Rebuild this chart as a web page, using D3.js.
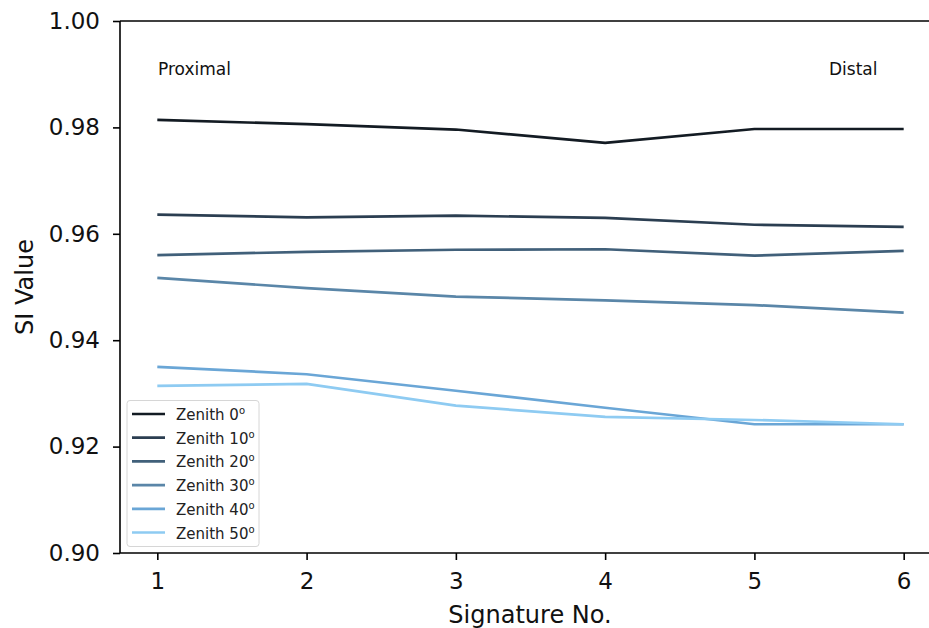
<!DOCTYPE html>
<html>
<head>
<meta charset="utf-8">
<script src="https://cdn.jsdelivr.net/npm/d3@7"></script>
<style>
  body { margin: 0; background: #fff; }
  svg { display: block; font-family: "DejaVu Sans", sans-serif; }
</style>
</head>
<body>
<svg id="chart" width="929" height="628"></svg>
<script>
const signatures = [1, 2, 3, 4, 5, 6];
const seriesNames = ["Zenith 0", "Zenith 10", "Zenith 20", "Zenith 30", "Zenith 40", "Zenith 50"];
const zenith0 = [0.9814, 0.9806, 0.9796, 0.9771, 0.9797, 0.9797];
const zenith10 = [0.9636, 0.9631, 0.9634, 0.9630, 0.9617, 0.9613];
const zenith20 = [0.9560, 0.9566, 0.9570, 0.9571, 0.9559, 0.9568];
const zenith30 = [0.9517, 0.9498, 0.9482, 0.9475, 0.9466, 0.9452];
const zenith40 = [0.9350, 0.9336, 0.9305, 0.9273, 0.9242, 0.9242];
const zenith50 = [0.9314, 0.9318, 0.9277, 0.9256, 0.9250, 0.9242];
const colors = ["#131b23", "#2b3e51", "#41607a", "#5a86a8", "#6aa6d6", "#8ecbf2"];
const yTicks = [0.90, 0.92, 0.94, 0.96, 0.98, 1.00];

const allSeries = [zenith0, zenith10, zenith20, zenith30, zenith40, zenith50];

const svg = d3.select("#chart");

// x domain padded like matplotlib (5% each side), plot runs past the right edge
const x = d3.scaleLinear().domain([0.75, 6.25]).range([120, 941]);
const y = d3.scaleLinear().domain([0.90, 1.00]).range([553, 21]);

// lines
const line = d3.line()
  .x((d, i) => x(signatures[i]))
  .y(d => y(d));

svg.append("g")
  .selectAll("path")
  .data(allSeries)
  .enter()
  .append("path")
  .attr("d", d => line(d))
  .attr("fill", "none")
  .attr("stroke", (d, i) => colors[i])
  .attr("stroke-width", 2.7);

// axes
const xAxis = svg.append("g")
  .attr("transform", "translate(0,553)")
  .call(d3.axisBottom(x).tickValues(signatures).tickFormat(d3.format("d")).tickSize(7).tickPadding(13));

const yAxis = svg.append("g")
  .attr("transform", "translate(120,0)")
  .call(d3.axisLeft(y).tickValues(yTicks).tickFormat(d3.format(".2f")).tickSize(7).tickPadding(13));

[xAxis, yAxis].forEach(a => {
  a.select(".domain").attr("stroke", "#000").attr("stroke-width", 1.6);
  a.selectAll(".tick line").attr("stroke", "#000").attr("stroke-width", 1.6);
  a.selectAll(".tick text")
    .attr("fill", "#111")
    .style("font-size", "23px")
    .style("font-family", "DejaVu Sans, sans-serif");
});
// plain spines, no end caps
xAxis.select(".domain").attr("d", "M120,0H941");
yAxis.select(".domain").attr("d", "M0,553V21");

// top spine
svg.append("line")
  .attr("x1", 120).attr("x2", 941)
  .attr("y1", 21).attr("y2", 21)
  .attr("stroke", "#000").attr("stroke-width", 1.6);

// axis titles
svg.append("text")
  .attr("x", 530).attr("y", 623)
  .attr("text-anchor", "middle")
  .style("font-size", "24px")
  .attr("fill", "#111")
  .text("Signature No.");

svg.append("text")
  .attr("transform", "translate(33,287) rotate(-90)")
  .attr("text-anchor", "middle")
  .style("font-size", "24px")
  .attr("fill", "#111")
  .text("SI Value");

// annotations
svg.append("text")
  .attr("x", 158).attr("y", 75)
  .style("font-size", "17px")
  .attr("fill", "#111")
  .text("Proximal");

svg.append("text")
  .attr("x", 829).attr("y", 75)
  .style("font-size", "17px")
  .attr("fill", "#111")
  .text("Distal");

// legend
const legend = svg.append("g");
legend.append("rect")
  .attr("x", 127).attr("y", 400.5)
  .attr("width", 132).attr("height", 146)
  .attr("rx", 3)
  .attr("fill", "#fff")
  .attr("fill-opacity", 0.85)
  .attr("stroke", "#d6d6d6");

const rows = legend.selectAll("g.row")
  .data(seriesNames)
  .enter()
  .append("g")
  .attr("class", "row")
  .attr("transform", (d, i) => `translate(0,${414 + i * 23.7})`);

rows.append("line")
  .attr("x1", 132).attr("x2", 165)
  .attr("stroke", (d, i) => colors[i])
  .attr("stroke-width", 2.7);

const labels = rows.append("text")
  .attr("x", 176).attr("y", 6)
  .style("font-size", "15px")
  .attr("fill", "#222");
labels.append("tspan").text(d => d);
labels.append("tspan")
  .attr("dy", -6)
  .style("font-size", "10px")
  .text("o");
</script>
</body>
</html>
